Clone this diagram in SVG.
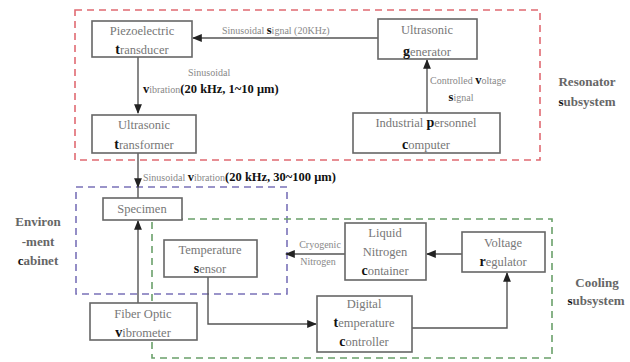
<svg xmlns="http://www.w3.org/2000/svg" width="630" height="362" viewBox="0 0 630 362">
<style>
.box{fill:#fff;stroke:#666;stroke-width:1.6}
.t{font-family:'Liberation Serif',serif;font-size:12.5px;fill:#777;text-anchor:middle}
.l{font-family:'Liberation Serif',serif;font-size:10px;fill:#888}
.b{font-weight:bold;fill:#111;font-size:14px}
.bl{font-weight:bold;fill:#111;font-size:12.5px}
.side{font-family:'Liberation Serif',serif;font-size:13px;font-weight:bold;fill:#666;text-anchor:middle}
.c{fill:none;stroke:#555;stroke-width:1.4}
</style>
<defs>
<marker id="a" viewBox="0 0 10 10" refX="9" refY="5" markerWidth="7" markerHeight="7" orient="auto"><path d="M0,1 L10,5 L0,9 z" fill="#222"/></marker>
</defs>
<rect width="630" height="362" fill="#fff"/>
<g id="subsystems" fill="none" stroke-width="1.6" stroke-dasharray="7,5">
<rect x="75" y="10" width="465" height="150" stroke="#e06a72"/>
<rect x="76" y="187" width="211" height="107" stroke="#7a72b8"/>
<rect x="152" y="219" width="400" height="139" stroke="#6aa06a"/>
</g>
<g id="connectors">
<path class="c" d="M378 38 H193" marker-end="url(#a)"/>
<path class="c" d="M427 113 V60" marker-end="url(#a)"/>
<path class="c" d="M138 57 V113" marker-end="url(#a)"/>
<path class="c" d="M138 153 V187" marker-end="url(#a)"/>
<path class="c" d="M138 187 V198"/>
<path class="c" d="M138 303 V221" marker-end="url(#a)"/>
<path class="c" d="M208 277 V324 H316" marker-end="url(#a)"/>
<path class="c" d="M462 254 H427" marker-end="url(#a)"/>
<path class="c" d="M412 328 H507 V273" marker-end="url(#a)"/>
<path class="c" d="M345 254 H286" marker-end="url(#a)"/>
<text class="l" font-family="Liberation Serif" x="222" y="34">Sinusoidal <tspan class="bl">s</tspan>ignal (20KHz)</text>
<text class="l" font-family="Liberation Serif" x="430" y="84">Controlled <tspan class="bl">v</tspan>oltage</text>
<text class="l" font-family="Liberation Serif" x="461" y="101" text-anchor="middle"><tspan class="bl">s</tspan>ignal</text>
<text class="l" font-family="Liberation Serif" x="188" y="76">Sinusoidal</text>
<text class="l" font-family="Liberation Serif" x="143" y="93"><tspan class="bl">v</tspan>ibration<tspan class="bl">(20 kHz, 1~10 μm)</tspan></text>
<text class="l" font-family="Liberation Serif" x="143" y="181">Sinusoidal <tspan class="bl">v</tspan>ibration<tspan class="bl">(20 kHz, 30~100 μm)</tspan></text>
<text class="l" font-family="Liberation Serif" x="320" y="248" text-anchor="middle">Cryogenic</text>
<text class="l" font-family="Liberation Serif" x="318" y="265" text-anchor="middle">Nitrogen</text>
</g>
<g id="piezo"><rect class="box" x="92" y="21" width="100" height="36"/>
<text class="t" font-family="Liberation Serif" x="142" y="35">Piezoelectric</text><text class="t" font-family="Liberation Serif" x="142" y="54"><tspan class="b">t</tspan>ransducer</text></g>
<g id="generator"><rect class="box" x="378" y="19" width="99" height="40"/>
<text class="t" font-family="Liberation Serif" x="427" y="34">Ultrasonic</text><text class="t" font-family="Liberation Serif" x="427" y="56"><tspan class="b">g</tspan>enerator</text></g>
<g id="transformer"><rect class="box" x="92" y="115" width="104" height="38"/>
<text class="t" font-family="Liberation Serif" x="144" y="129">Ultrasonic</text><text class="t" font-family="Liberation Serif" x="144" y="149"><tspan class="b">t</tspan>ransformer</text></g>
<g id="computer"><rect class="box" x="353" y="113" width="147" height="40"/>
<text class="t" font-family="Liberation Serif" x="426" y="127">Industrial <tspan class="b">p</tspan>ersonnel</text><text class="t" font-family="Liberation Serif" x="426" y="149"><tspan class="b">c</tspan>omputer</text></g>
<g id="specimen"><rect class="box" x="103" y="198" width="79" height="22"/>
<text class="t" font-family="Liberation Serif" x="142" y="213">Specimen</text></g>
<g id="sensor"><rect class="box" x="164" y="240" width="93" height="37"/>
<text class="t" font-family="Liberation Serif" x="210" y="254">Temperature</text><text class="t" font-family="Liberation Serif" x="210" y="273"><tspan class="b">s</tspan>ensor</text></g>
<g id="vibrometer"><rect class="box" x="90" y="303" width="107" height="37"/>
<text class="t" font-family="Liberation Serif" x="143" y="318">Fiber Optic</text><text class="t" font-family="Liberation Serif" x="143" y="337"><tspan class="b">v</tspan>ibrometer</text></g>
<g id="container"><rect class="box" x="345" y="223" width="81" height="57"/>
<text class="t" font-family="Liberation Serif" x="385" y="237">Liquid</text><text class="t" font-family="Liberation Serif" x="385" y="256">Nitrogen</text><text class="t" font-family="Liberation Serif" x="385" y="275"><tspan class="b">c</tspan>ontainer</text></g>
<g id="regulator"><rect class="box" x="462" y="232" width="83" height="40"/>
<text class="t" font-family="Liberation Serif" x="503" y="247">Voltage</text><text class="t" font-family="Liberation Serif" x="503" y="266"><tspan class="b">r</tspan>egulator</text></g>
<g id="controller"><rect class="box" x="317" y="296" width="95" height="56"/>
<text class="t" font-family="Liberation Serif" x="364" y="308">Digital</text><text class="t" font-family="Liberation Serif" x="364" y="327"><tspan class="b">t</tspan>emperature</text><text class="t" font-family="Liberation Serif" x="364" y="346"><tspan class="b">c</tspan>ontroller</text></g>
<g id="labels">
<text class="side" font-family="Liberation Serif" x="38" y="226">Environ</text>
<text class="side" font-family="Liberation Serif" x="38" y="246">-ment</text>
<text class="side" font-family="Liberation Serif" x="38" y="265"><tspan fill="#111">c</tspan>abinet</text>
<text class="side" font-family="Liberation Serif" x="587" y="86">Resonator</text>
<text class="side" font-family="Liberation Serif" x="587" y="106"><tspan fill="#111">s</tspan>ubsystem</text>
<text class="side" font-family="Liberation Serif" x="597" y="287">Cooling</text>
<text class="side" font-family="Liberation Serif" x="596" y="305"><tspan fill="#111">s</tspan>ubsystem</text>
</g>
</svg>
